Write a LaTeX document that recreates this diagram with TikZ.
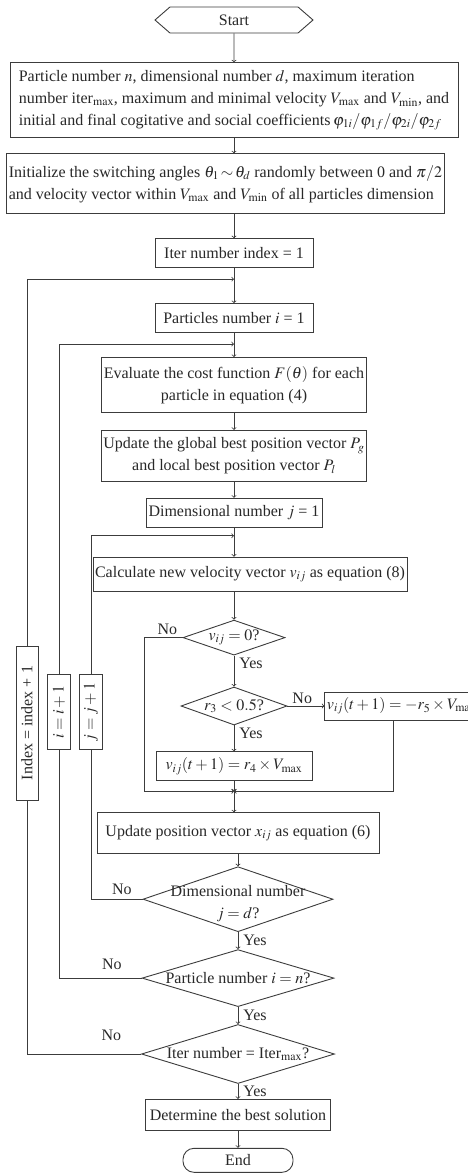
\documentclass[tikz,border=0pt]{standalone}
\usepackage{mathptmx}
\usepackage{fontspec}
\setmainfont{Liberation Serif}
\usetikzlibrary{arrows, positioning, shapes}
\definecolor{my_line}{RGB}{60, 60, 60}
\definecolor{my_text}{RGB}{40, 40, 40}
\tikzset {
  box/.style = {draw=my_line, line width=0.9pt, rectangle, fill=white, text=my_text, inner sep=2pt, align=center},
  startstop/.style = {draw=my_line, line width=0.9pt, signal, signal to=west and east, signal pointer angle=82, text=my_text, minimum width=158pt, minimum height=26pt, inner sep=1pt},
  endbox/.style = {draw=my_line, line width=0.9pt, rectangle, rounded corners=11pt, text=my_text, minimum width=110pt, minimum height=24pt, inner sep=1pt},
  decision/.style = {draw=my_line, line width=0.9pt, diamond, fill=white, inner sep=0pt},
  line/.style = {line width=0.8pt, color=my_line, >=to},
  tag/.style = {text=my_text, inner sep=1pt, align=center}
}

\begin{document}
\begin{tikzpicture}[x=1pt, y=-1pt, font=\fontsize{16}{22}\selectfont]
    \useasboundingbox (0,0) rectangle (467,1173);

    \node[startstop] (start) at (234,20) {Start};
    \node[box, below=29pt of start, minimum width=448pt, minimum height=75pt, align=left] (init) {Particle number $n$, dimensional number $d$, maximum iteration\\ number iter$_{\max}$, maximum and minimal velocity $V_{\max}$ and $V_{\min}$, and\\ initial and final cogitative and social coefficients\,$\varphi_{1i}/\varphi_{1f}/\varphi_{2i}/\varphi_{2f}$};
    \node[box, below=15pt of init, xshift=-8.5pt, minimum width=435pt, minimum height=60pt, align=left] (setup) {Initialize the switching angles $\theta_1\,{\sim}\,\theta_d$ randomly between 0 and $\pi/2$\\ and velocity vector within $V_{\max}$ and $V_{\min}$ of all particles dimension};
    \node[box, below=24pt of setup, xshift=8.5pt, minimum width=158pt, minimum height=29pt] (iterset) {Iter number index = 1};
    \node[box, below=35pt of iterset, minimum width=158pt, minimum height=29pt] (partset) {Particles number $i$ = 1};
    \node[box, below=24pt of partset, minimum width=262pt, minimum height=55pt] (evalcost) {Evaluate the cost function $F(\theta)$ for each\\ particle in equation (4)};
    \node[box, below=17pt of evalcost, minimum width=265pt, minimum height=51pt] (updbest) {Update the global best position vector $P_g$\\ and local best position vector $P_l$};
    \node[box, below=16pt of updbest, minimum width=176pt, minimum height=29pt] (dimset) {Dimensional number $j$ = 1};
    \node[box, below=29pt of dimset, xshift=16pt, minimum width=304pt, minimum height=34pt] (calcvel) {Calculate new velocity vector $v_{ij}$ as equation (8)};
    \node[decision, below=28pt of calcvel, xshift=-16pt, minimum width=102pt, minimum height=35pt, label={[tag]center:$v_{ij} = 0$?}] (velzero) {};
    \node[decision, below=31pt of velzero, minimum width=106pt, minimum height=38pt, label={[tag]center:$r_3 < 0.5$?}] (rchk) {};
    \node[box, below=26pt of rchk, minimum width=156pt, minimum height=29pt] (velpos) {$v_{ij}(t + 1) = r_4 \times V_{\max}$};
    \node[box, right=37pt of rchk, minimum height=28pt, align=left] (velneg) {$v_{ij}(t + 1) = -r_5 \times V_{\max}$};
    \coordinate[below=10pt of velpos] (merge);
    \node[box, below=31pt of velpos, xshift=4pt, minimum width=282pt, minimum height=41pt] (updpos) {Update position vector $x_{ij}$ as equation (6)};
    \node[decision, below=12pt of updpos, minimum width=190pt, minimum height=65pt, label={[tag, yshift=-4pt]center:Dimensional number\\ $j = d$?}] (dimchk) {};
    \node[decision, below=17pt of dimchk, minimum width=192pt, minimum height=57pt, label={[tag]center:Particle number $i = n$?}] (partchk) {};
    \node[decision, below=17pt of partchk, minimum width=193pt, minimum height=59pt, label={[tag]center:Iter number = Iter$_{\max}$?}] (iterchk) {};
    \node[box, below=15pt of iterchk, minimum width=185pt, minimum height=31pt] (best) {Determine the best solution};
    \node[endbox, below=17pt of best] (finish) {End};

    % loop counters
    \node[box, rotate=90, minimum width=154pt, minimum height=22pt, inner sep=1pt] (idxinc) at (27,723) {Index = index + 1};
    \node[box, rotate=90, minimum width=75pt, minimum height=23pt, inner sep=1pt] (iinc) at (59,712) {$i = i + 1$};
    \node[box, rotate=90, minimum width=75pt, minimum height=23pt, inner sep=1pt] (jinc) at (91,712) {$j = j + 1$};

    \coordinate[below=11pt of iterset] (iterjoin);
    \coordinate[below=11pt of partset] (partjoin);
    \coordinate[below=8pt of dimset] (dimjoin);

    \draw[line, ->] (start) -- (init);
    \draw[line, ->] (init.south) -- (init.south |- setup.north);
    \draw[line, ->] (setup.south -| iterset) -- (iterset);
    \draw[line] (iterset) -- (iterjoin);
    \draw[line, ->] (iterjoin) -- (partset);
    \draw[line] (partset) -- (partjoin);
    \draw[line, ->] (partjoin) -- (evalcost);
    \draw[line, ->] (evalcost) -- (updbest);
    \draw[line, ->] (updbest) -- (dimset);
    \draw[line] (dimset) -- (dimjoin);
    \draw[line, ->] (dimjoin) -- (dimjoin |- calcvel.north);
    \draw[line, ->] (calcvel.south -| velzero) -- (velzero);
    \draw[line, ->] (velzero) -- node[tag, pos=0.25, right=4pt] {Yes} (rchk);
    \draw[line, ->] (rchk) -- node[tag, pos=0.4, above=1pt] {No} (velneg);
    \draw[line, ->] (rchk) -- node[tag, pos=0.3, right=4pt] {Yes} (velpos);
    \draw[line, ->] (velzero.west) -- node[tag, pos=0.4, above=2pt] {No} ++(-38pt,0) |- (merge);
    \draw[line, ->] ([xshift=69pt]velneg.south west) |- (merge);
    \draw[line, ->] (velpos) -- (merge);
    \draw[line, ->] (merge) -- (merge |- updpos.north);
    \draw[line, ->] (updpos.south -| dimchk) -- (dimchk);
    \draw[line, ->] (dimchk) -- node[tag, pos=0.5, right=4pt] {Yes} (partchk);
    \draw[line, ->] (partchk) -- node[tag, pos=0.5, right=4pt] {Yes} (iterchk);
    \draw[line, ->] (iterchk) -- node[tag, pos=0.5, right=4pt] {Yes} (best);
    \draw[line, ->] (best) -- (finish);

    % loops back
    \draw[line] (dimchk.west) -| node[tag, pos=0.2, above=3pt] {No} (jinc);
    \draw[line, ->] (jinc) |- (dimjoin);
    \draw[line] (partchk.west) -| node[tag, pos=0.18, above=7pt] {No} (iinc);
    \draw[line, ->] (iinc) |- (partjoin);
    \draw[line] (iterchk.west) -| node[tag, pos=0.13, above=12pt] {No} (idxinc);
    \draw[line, ->] (idxinc) |- (iterjoin);

\end{tikzpicture}
\end{document}
